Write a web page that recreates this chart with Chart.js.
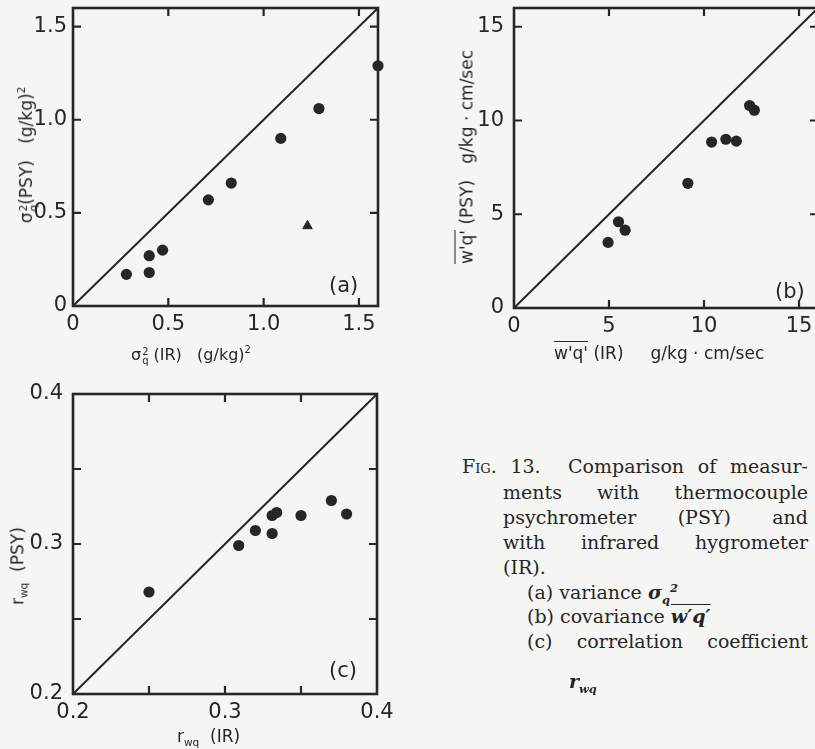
<!DOCTYPE html>
<html>
<head>
<meta charset="utf-8">
<title>Fig. 13</title>
<script src="https://cdn.jsdelivr.net/npm/chart.js@4.4.1/dist/chart.umd.min.js"></script>
<style>
  html, body { margin: 0; padding: 0; }
  body {
    width: 815px; height: 749px; overflow: hidden; position: relative;
    background: #f5f5f3; color: #262626;
    font-family: "DejaVu Sans", sans-serif;
  }
  canvas { position: absolute; }
  .lbl { position: absolute; white-space: nowrap; font-size: 17px; line-height: 1; }
  .rot { transform: translate(-50%, -50%) rotate(-90deg); }
  .ss { display: inline-block; vertical-align: -0.45em; font-size: 0.62em; line-height: 0.95; margin-left: 1px; }
  .ss span { display: block; }
  .sup { font-size: 0.62em; vertical-align: 0.7em; }
  .sub { font-size: 0.62em; vertical-align: -0.35em; }
  .ol { border-top: 1.6px solid #262626; padding-top: 1px; }
  .panel { position: absolute; font-size: 21px; line-height: 1; }
  .cap {
    position: absolute; font-family: "DejaVu Serif", serif; font-size: 19px;
    line-height: 1; white-space: nowrap;
  }
  .just { white-space: normal; text-align: justify; text-align-last: justify; }
  .sc { font-variant: small-caps; }
  .cap i { font-weight: bold; }
</style>
</head>
<body>

<canvas id="chartA" width="400" height="341" style="left:0;top:0"></canvas>
<canvas id="chartB" width="420" height="343" style="left:420px;top:0"></canvas>
<canvas id="chartC" width="400" height="369" style="left:0;top:360px"></canvas>

<!-- axis titles -->
<div class="lbl rot" style="left:27px;top:155px">σ<span class="ss"><span>2</span><span>q</span></span>(PSY)&nbsp;&nbsp;&nbsp;(g/kg)<span class="sup">2</span></div>
<div class="lbl" style="left:131px;top:345px;font-size:16px">σ<span class="ss"><span>2</span><span>q</span></span>&nbsp;(IR)&nbsp;&nbsp;&nbsp;(g/kg)<span class="sup">2</span></div>

<div class="lbl rot" style="left:467px;top:157px"><span class="ol">w'q'</span>&nbsp;(PSY)&nbsp;&nbsp;&nbsp;g/kg · cm/sec</div>
<div class="lbl" style="left:554px;top:345px"><span class="ol">w'q'</span>&nbsp;(IR)&nbsp;&nbsp;&nbsp;&nbsp;&nbsp;g/kg&nbsp;·&nbsp;cm/sec</div>

<div class="lbl rot" style="left:19px;top:566px">r<span class="sub">wq</span>&nbsp;&nbsp;(PSY)</div>
<div class="lbl" style="left:177px;top:728px">r<span class="sub">wq</span>&nbsp;&nbsp;(IR)</div>

<!-- panel letters -->
<div class="panel" style="left:329px;top:275px">(a)</div>
<div class="panel" style="left:775px;top:281px">(b)</div>
<div class="panel" style="left:329px;top:660px">(c)</div>

<!-- caption -->
<div class="cap just" style="left:462px;top:457px;width:346px"><span class="sc">Fig.</span> 13.&nbsp; Comparison of measur-</div>
<div class="cap just" style="left:503px;top:483px;width:305px">ments with thermocouple</div>
<div class="cap just" style="left:503px;top:508px;width:305px">psychrometer (PSY) and</div>
<div class="cap just" style="left:503px;top:533px;width:305px">with infrared hygrometer</div>
<div class="cap" style="left:503px;top:558px">(IR).</div>
<div class="cap" style="left:527px;top:583px">(a) variance <i>σ<sub style="font-size:.6em">q</sub><sup style="font-size:.6em">2</sup></i></div>
<div class="cap" style="left:527px;top:607px">(b) covariance <i style="text-decoration:overline">w′q′</i></div>
<div class="cap just" style="left:527px;top:632px;width:281px">(c) correlation coefficient</div>
<div class="cap" style="left:569px;top:672px"><i>r<sub style="font-size:.6em">wq</sub></i></div>

<script>
const INK = '#262626';

// (a) variance of q, infrared vs psychrometer
const aRange = [0, 1.6];
const aTicks = [0, 0.5, 1.0, 1.5];
const aLabels = ['0', '0.5', '1.0', '1.5'];
const aIR = [0.28, 0.40, 0.40, 0.47, 0.71, 0.83, 1.09, 1.29, 1.60];
const aPSY = [0.17, 0.27, 0.18, 0.30, 0.57, 0.66, 0.90, 1.06, 1.29];
const aTriIR = [1.23];
const aTriPSY = [0.43];

// (b) covariance w'q'
const bRange = [0, 16];
const bTicks = [0, 5, 10, 15];
const bLabels = ['0', '5', '10', '15'];
const bIR = [4.95, 5.5, 5.85, 9.15, 10.4, 11.15, 11.7, 12.4, 12.65];
const bPSY = [3.5, 4.6, 4.15, 6.65, 8.85, 9.0, 8.9, 10.8, 10.55];

// (c) correlation coefficient r_wq
const cRange = [0.2, 0.4];
const cTicks = [0.2, 0.25, 0.3, 0.35, 0.4];
const cLabels = ['0.2', '', '0.3', '', '0.4'];
const cIR = [0.25, 0.309, 0.32, 0.331, 0.331, 0.334, 0.35, 0.37, 0.38];
const cPSY = [0.268, 0.299, 0.309, 0.307, 0.319, 0.321, 0.319, 0.329, 0.32];

function pairs(xs, ys) {
  return xs.map((x, i) => ({ x: x, y: ys[i] }));
}

// frame round the plot with inward tick marks on all four sides
const boxTicks = {
  id: 'boxTicks',
  afterDatasetsDraw(chart) {
    const { ctx, chartArea: a } = chart;
    const sx = chart.scales.x, sy = chart.scales.y;
    const len = 8;
    ctx.save();
    ctx.strokeStyle = INK;
    ctx.lineWidth = 2.6;
    ctx.strokeRect(a.left, a.top, a.right - a.left, a.bottom - a.top);
    ctx.lineWidth = 2.2;
    ctx.beginPath();
    sx.ticks.forEach(t => {
      const px = sx.getPixelForValue(t.value);
      if (px - a.left < 2 || a.right - px < 2) return;
      ctx.moveTo(px, a.bottom); ctx.lineTo(px, a.bottom - len);
      ctx.moveTo(px, a.top); ctx.lineTo(px, a.top + len);
    });
    sy.ticks.forEach(t => {
      const py = sy.getPixelForValue(t.value);
      if (py - a.top < 2 || a.bottom - py < 2) return;
      ctx.moveTo(a.left, py); ctx.lineTo(a.left + len, py);
      ctx.moveTo(a.right, py); ctx.lineTo(a.right - len, py);
    });
    ctx.stroke();
    ctx.restore();
  }
};

function axis(range, ticks, labels, pad, size) {
  return {
    type: 'linear',
    min: range[0],
    max: range[1],
    grid: { display: false, drawTicks: false },
    border: { display: false },
    afterBuildTicks: s => { s.ticks = ticks.map(v => ({ value: v })); },
    afterFit: s => {
      // fixed box sizes, and no extra room for the end labels
      if (s.isHorizontal()) {
        s.height = size;
        s.paddingLeft = 0;
        s.paddingRight = 0;
      } else {
        s.width = size;
        s.paddingTop = 0;
        s.paddingBottom = 0;
      }
    },
    ticks: {
      padding: pad,
      color: INK,
      autoSkip: false,
      maxRotation: 0,
      font: { family: 'DejaVu Sans', size: 21 },
      callback: (v, i) => labels[i]
    }
  };
}

function panel(id, p) {
  const datasets = [
    {
      type: 'line',
      data: [{ x: p.range[0], y: p.range[0] }, { x: p.range[1], y: p.range[1] }],
      showLine: true,
      borderColor: INK,
      borderWidth: 2,
      pointRadius: 0,
      clip: false
    },
    {
      type: 'scatter',
      data: pairs(p.xs, p.ys),
      pointStyle: 'circle',
      pointRadius: 5.6,
      backgroundColor: INK,
      borderWidth: 0,
      clip: false
    }
  ];
  if (p.triX) {
    datasets.push({
      type: 'scatter',
      data: pairs(p.triX, p.triY),
      pointStyle: 'triangle',
      pointRadius: 5.5,
      backgroundColor: INK,
      borderColor: INK,
      borderWidth: 1,
      clip: false
    });
  }
  return new Chart(document.getElementById(id), {
    type: 'scatter',
    data: { datasets: datasets },
    options: {
      responsive: false,
      animation: false,
      devicePixelRatio: 1,
      layout: { padding: { top: p.top, right: p.right, left: 0, bottom: 0 } },
      plugins: { legend: { display: false }, tooltip: { enabled: false } },
      scales: {
        x: axis(p.range, p.ticks, p.labels, 6, 35),
        y: axis(p.range, p.ticks, p.labels, p.ypad, p.yw)
      }
    },
    plugins: [boxTicks]
  });
}

panel('chartA', {
  range: aRange, ticks: aTicks, labels: aLabels,
  xs: aIR, ys: aPSY, triX: aTriIR, triY: aTriPSY,
  top: 8, right: 22, yw: 73, ypad: 6
});

panel('chartB', {
  range: bRange, ticks: bTicks, labels: bLabels,
  xs: bIR, ys: bPSY,
  top: 8, right: 22, yw: 94, ypad: 10
});

panel('chartC', {
  range: cRange, ticks: cTicks, labels: cLabels,
  xs: cIR, ys: cPSY,
  top: 34, right: 23, yw: 73, ypad: 10
});
</script>
</body>
</html>
